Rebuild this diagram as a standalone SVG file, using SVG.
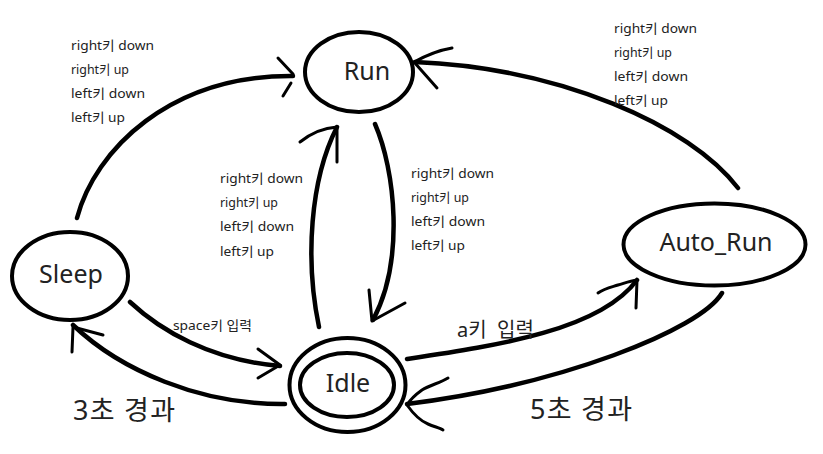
<svg xmlns="http://www.w3.org/2000/svg" width="823" height="454" viewBox="0 0 823 454">
<style>
.node{fill:none;stroke:#000;stroke-width:4}
.lbl{font-family:"Noto Sans","Noto Sans CJK KR",sans-serif;font-size:25px;fill:#222;text-anchor:middle}
.edge{fill:none;stroke:#000;stroke-width:4.5;stroke-linecap:round;stroke-linejoin:round}
.head{fill:none;stroke:#000;stroke-width:3;stroke-linecap:round;stroke-linejoin:round}
.small{font-family:"Noto Sans","Noto Sans CJK KR",sans-serif;font-size:13px;fill:#222}
.big{font-family:"Noto Sans","Noto Sans CJK KR",sans-serif;font-size:27px;fill:#222}
</style>
<rect width="823" height="454" fill="#fff"/>
<g id="connectors">
  <!-- Sleep -> Run -->
  <path class="edge" d="M77,218 C95,150 170,75 293,76"/>
  <path class="head" d="M278,58 L293,74 M283,96 L291,83"/>
  <!-- Auto_Run -> Run -->
  <path class="edge" d="M738,188 C690,125 560,68 415,62"/>
  <path class="head" d="M452,48 C440,50 425,56 414,62 L437,88"/>
  <!-- Idle -> Run -->
  <path class="edge" d="M319,327 C305,260 310,180 337,127"/>
  <path class="head" d="M300,142 C310,134 322,128 337,127 L337,162"/>
  <!-- Run -> Idle -->
  <path class="edge" d="M375,124 C395,170 405,260 373,320"/>
  <path class="head" d="M369,290 L372,321 L405,303"/>
  <!-- Sleep -> Idle -->
  <path class="edge" d="M130,302 C160,330 210,360 280,366"/>
  <path class="head" d="M258,349 L280,365 L258,378"/>
  <!-- Idle -> Sleep -->
  <path class="edge" d="M285,404 C200,405 120,370 73,325"/>
  <path class="head" d="M72,352 L73,327 L103,335"/>
  <!-- Idle -> Auto_Run -->
  <path class="edge" d="M407,359 C500,345 600,330 637,280"/>
  <path class="head" d="M598,293 C605,288 612,287 618,285 C625,283 630,281 637,280 L636,308"/>
  <!-- Auto_Run -> Idle -->
  <path class="edge" d="M722,293 C700,330 560,385 407,404"/>
  <path class="head" d="M448,378 C440,383 430,385 422,390 C415,395 410,400 407,405 C412,412 418,420 428,424 C435,427 440,428 443,430"/>
  <!-- labels -->
  <text class="small" x="71" y="50" textLength="83" lengthAdjust="spacingAndGlyphs">right키 down</text>
  <text class="small" x="71" y="74" textLength="58" lengthAdjust="spacingAndGlyphs">right키 up</text>
  <text class="small" x="71" y="98" textLength="74" lengthAdjust="spacingAndGlyphs">left키 down</text>
  <text class="small" x="71" y="122" textLength="54" lengthAdjust="spacingAndGlyphs">left키 up</text>
  <text class="small" x="614" y="33" textLength="83" lengthAdjust="spacingAndGlyphs">right키 down</text>
  <text class="small" x="614" y="57" textLength="58" lengthAdjust="spacingAndGlyphs">right키 up</text>
  <text class="small" x="614" y="81" textLength="74" lengthAdjust="spacingAndGlyphs">left키 down</text>
  <text class="small" x="614" y="105" textLength="54" lengthAdjust="spacingAndGlyphs">left키 up</text>
  <text class="small" x="220" y="183" textLength="83" lengthAdjust="spacingAndGlyphs">right키 down</text>
  <text class="small" x="220" y="207" textLength="58" lengthAdjust="spacingAndGlyphs">right키 up</text>
  <text class="small" x="220" y="231" textLength="74" lengthAdjust="spacingAndGlyphs">left키 down</text>
  <text class="small" x="220" y="256" textLength="54" lengthAdjust="spacingAndGlyphs">left키 up</text>
  <text class="small" x="411" y="178" textLength="83" lengthAdjust="spacingAndGlyphs">right키 down</text>
  <text class="small" x="411" y="202" textLength="58" lengthAdjust="spacingAndGlyphs">right키 up</text>
  <text class="small" x="411" y="226" textLength="74" lengthAdjust="spacingAndGlyphs">left키 down</text>
  <text class="small" x="411" y="250" textLength="54" lengthAdjust="spacingAndGlyphs">left키 up</text>
  <text class="small" x="173" y="330" textLength="79" lengthAdjust="spacingAndGlyphs">space키 입력</text>
  <text class="small" x="457" y="337" style="font-size:20px">a키 <tspan x="497">입력</tspan></text>
  <text class="big" x="73" y="420" textLength="102" lengthAdjust="spacing">3초 경과</text>
  <text class="big" x="530" y="419" textLength="102" lengthAdjust="spacing">5초 경과</text>
</g>
<g id="Run">
  <ellipse class="node" cx="359" cy="72" rx="54" ry="40"/>
  <text class="lbl" x="367" y="80">Run</text>
</g>
<g id="Idle">
  <ellipse class="node" cx="347.5" cy="385" rx="58" ry="47"/>
  <ellipse class="node" cx="347" cy="385" rx="47" ry="32"/>
  <text class="lbl" x="348" y="392">Idle</text>
</g>
<g id="Auto_Run">
  <ellipse class="node" cx="714.5" cy="244.5" rx="91" ry="41"/>
  <text class="lbl" x="716" y="251">Auto_Run</text>
</g>
<g id="Sleep">
  <ellipse class="node" cx="70" cy="276" rx="58" ry="44"/>
  <text class="lbl" x="71" y="283">Sleep</text>
</g>
</svg>
